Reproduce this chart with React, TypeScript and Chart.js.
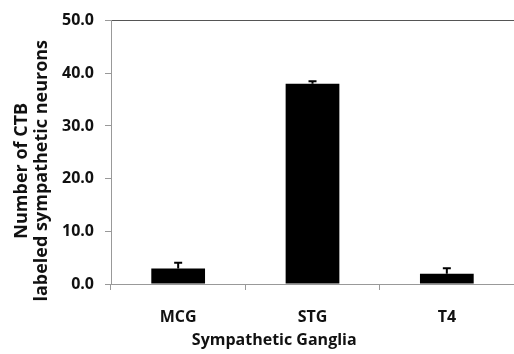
import React, { useEffect, useRef } from 'react';
import { Chart, registerables } from 'chart.js';

Chart.register(...registerables);

const categories = ['MCG', 'STG', 'T4'];
const meanValues = [2.95, 38.0, 1.95];
const errorValues = [1.1, 0.5, 1.05];
const yMin = 0;
const yMax = 50;
const yStep = 10;
const yTitleLines = ['Number of CTB', 'labeled sympathetic neurons'];
const xTitle = 'Sympathetic Ganglia';

const FONT = '"Open Sans", "Noto Sans", sans-serif';

const errorBarPlugin = {
  id: 'errorBars',
  afterDatasetsDraw(chart: any) {
    const ctx = chart.ctx;
    const meta = chart.getDatasetMeta(0);
    const yScale = chart.scales.y;
    ctx.save();
    ctx.strokeStyle = '#000';
    ctx.lineWidth = 2;
    meta.data.forEach((bar: any, i: number) => {
      const top = yScale.getPixelForValue(meanValues[i] + errorValues[i]);
      const x = bar.x;
      ctx.beginPath();
      ctx.moveTo(x, bar.y);
      ctx.lineTo(x, top);
      ctx.moveTo(x - 4, top);
      ctx.lineTo(x + 4, top);
      ctx.stroke();
    });
    ctx.restore();
  },
};

const titlesPlugin = {
  id: 'customTitles',
  afterDraw(chart: any) {
    const ctx = chart.ctx;
    const area = chart.chartArea;
    ctx.save();
    ctx.fillStyle = '#111';
    ctx.textAlign = 'center';
    ctx.textBaseline = 'alphabetic';
    // y-axis title (rotated, two lines)
    ctx.font = `bold 18px ${FONT}`;
    const cy = area.top + (area.bottom - area.top) * 0.57;
    yTitleLines.forEach((line, i) => {
      ctx.save();
      ctx.translate(27 + i * 20, cy);
      ctx.rotate(-Math.PI / 2);
      ctx.fillText(line, 0, 0);
      ctx.restore();
    });
    // x-axis title
    ctx.font = `bold 16px ${FONT}`;
    const cx = area.left + (area.right - area.left) * 0.405;
    ctx.fillText(xTitle, cx, area.bottom + 61);
    ctx.restore();
  },
};

export default function App() {
  const canvasRef = useRef<HTMLCanvasElement | null>(null);

  useEffect(() => {
    const canvas = canvasRef.current;
    if (!canvas) return;
    const chart = new Chart(canvas, {
      type: 'bar',
      data: {
        labels: categories,
        datasets: [
          {
            data: meanValues,
            backgroundColor: '#000',
            borderWidth: 0,
            categoryPercentage: 1,
            barPercentage: 0.4,
          },
        ],
      },
      options: {
        responsive: false,
        animation: false,
        devicePixelRatio: 1,
        layout: { padding: { top: 18, left: 0, right: 0, bottom: 0 } },
        plugins: {
          legend: { display: false },
          tooltip: { enabled: false },
          title: { display: false },
        },
        scales: {
          x: {
            offset: true,
            border: { display: true, color: '#999', width: 1 },
            grid: {
              offset: true,
              drawOnChartArea: false,
              drawTicks: true,
              tickLength: 6,
              tickColor: '#999',
            },
            ticks: {
              color: '#111',
              padding: 18,
              font: { family: FONT, size: 16, weight: 'bold' },
              maxRotation: 0,
            },
            afterFit(scale: any) {
              scale.height = 70;
            },
          },
          y: {
            min: yMin,
            max: yMax,
            border: { display: true, color: '#999', width: 1 },
            grid: {
              drawOnChartArea: true,
              drawTicks: true,
              tickLength: 6,
              tickColor: '#999',
              color: (c: any) => (c.tick && c.tick.value === yMax ? '#555' : 'rgba(0,0,0,0)'),
              lineWidth: 1,
            },
            ticks: {
              stepSize: yStep,
              color: '#111',
              padding: 11,
              font: { family: FONT, size: 16, weight: 'bold' },
              callback: (v: any) => Number(v).toFixed(1),
            },
            afterFit(scale: any) {
              scale.width = 111;
            },
          },
        },
      },
      plugins: [errorBarPlugin, titlesPlugin],
    });
    return () => chart.destroy();
  }, []);

  return (
    <div style={{ position: 'fixed', left: 0, top: 0, width: 514, height: 354, background: '#fff' }}>
      <canvas ref={canvasRef} width={514} height={354} style={{ display: 'block', width: 514, height: 354 }} />
    </div>
  );
}
